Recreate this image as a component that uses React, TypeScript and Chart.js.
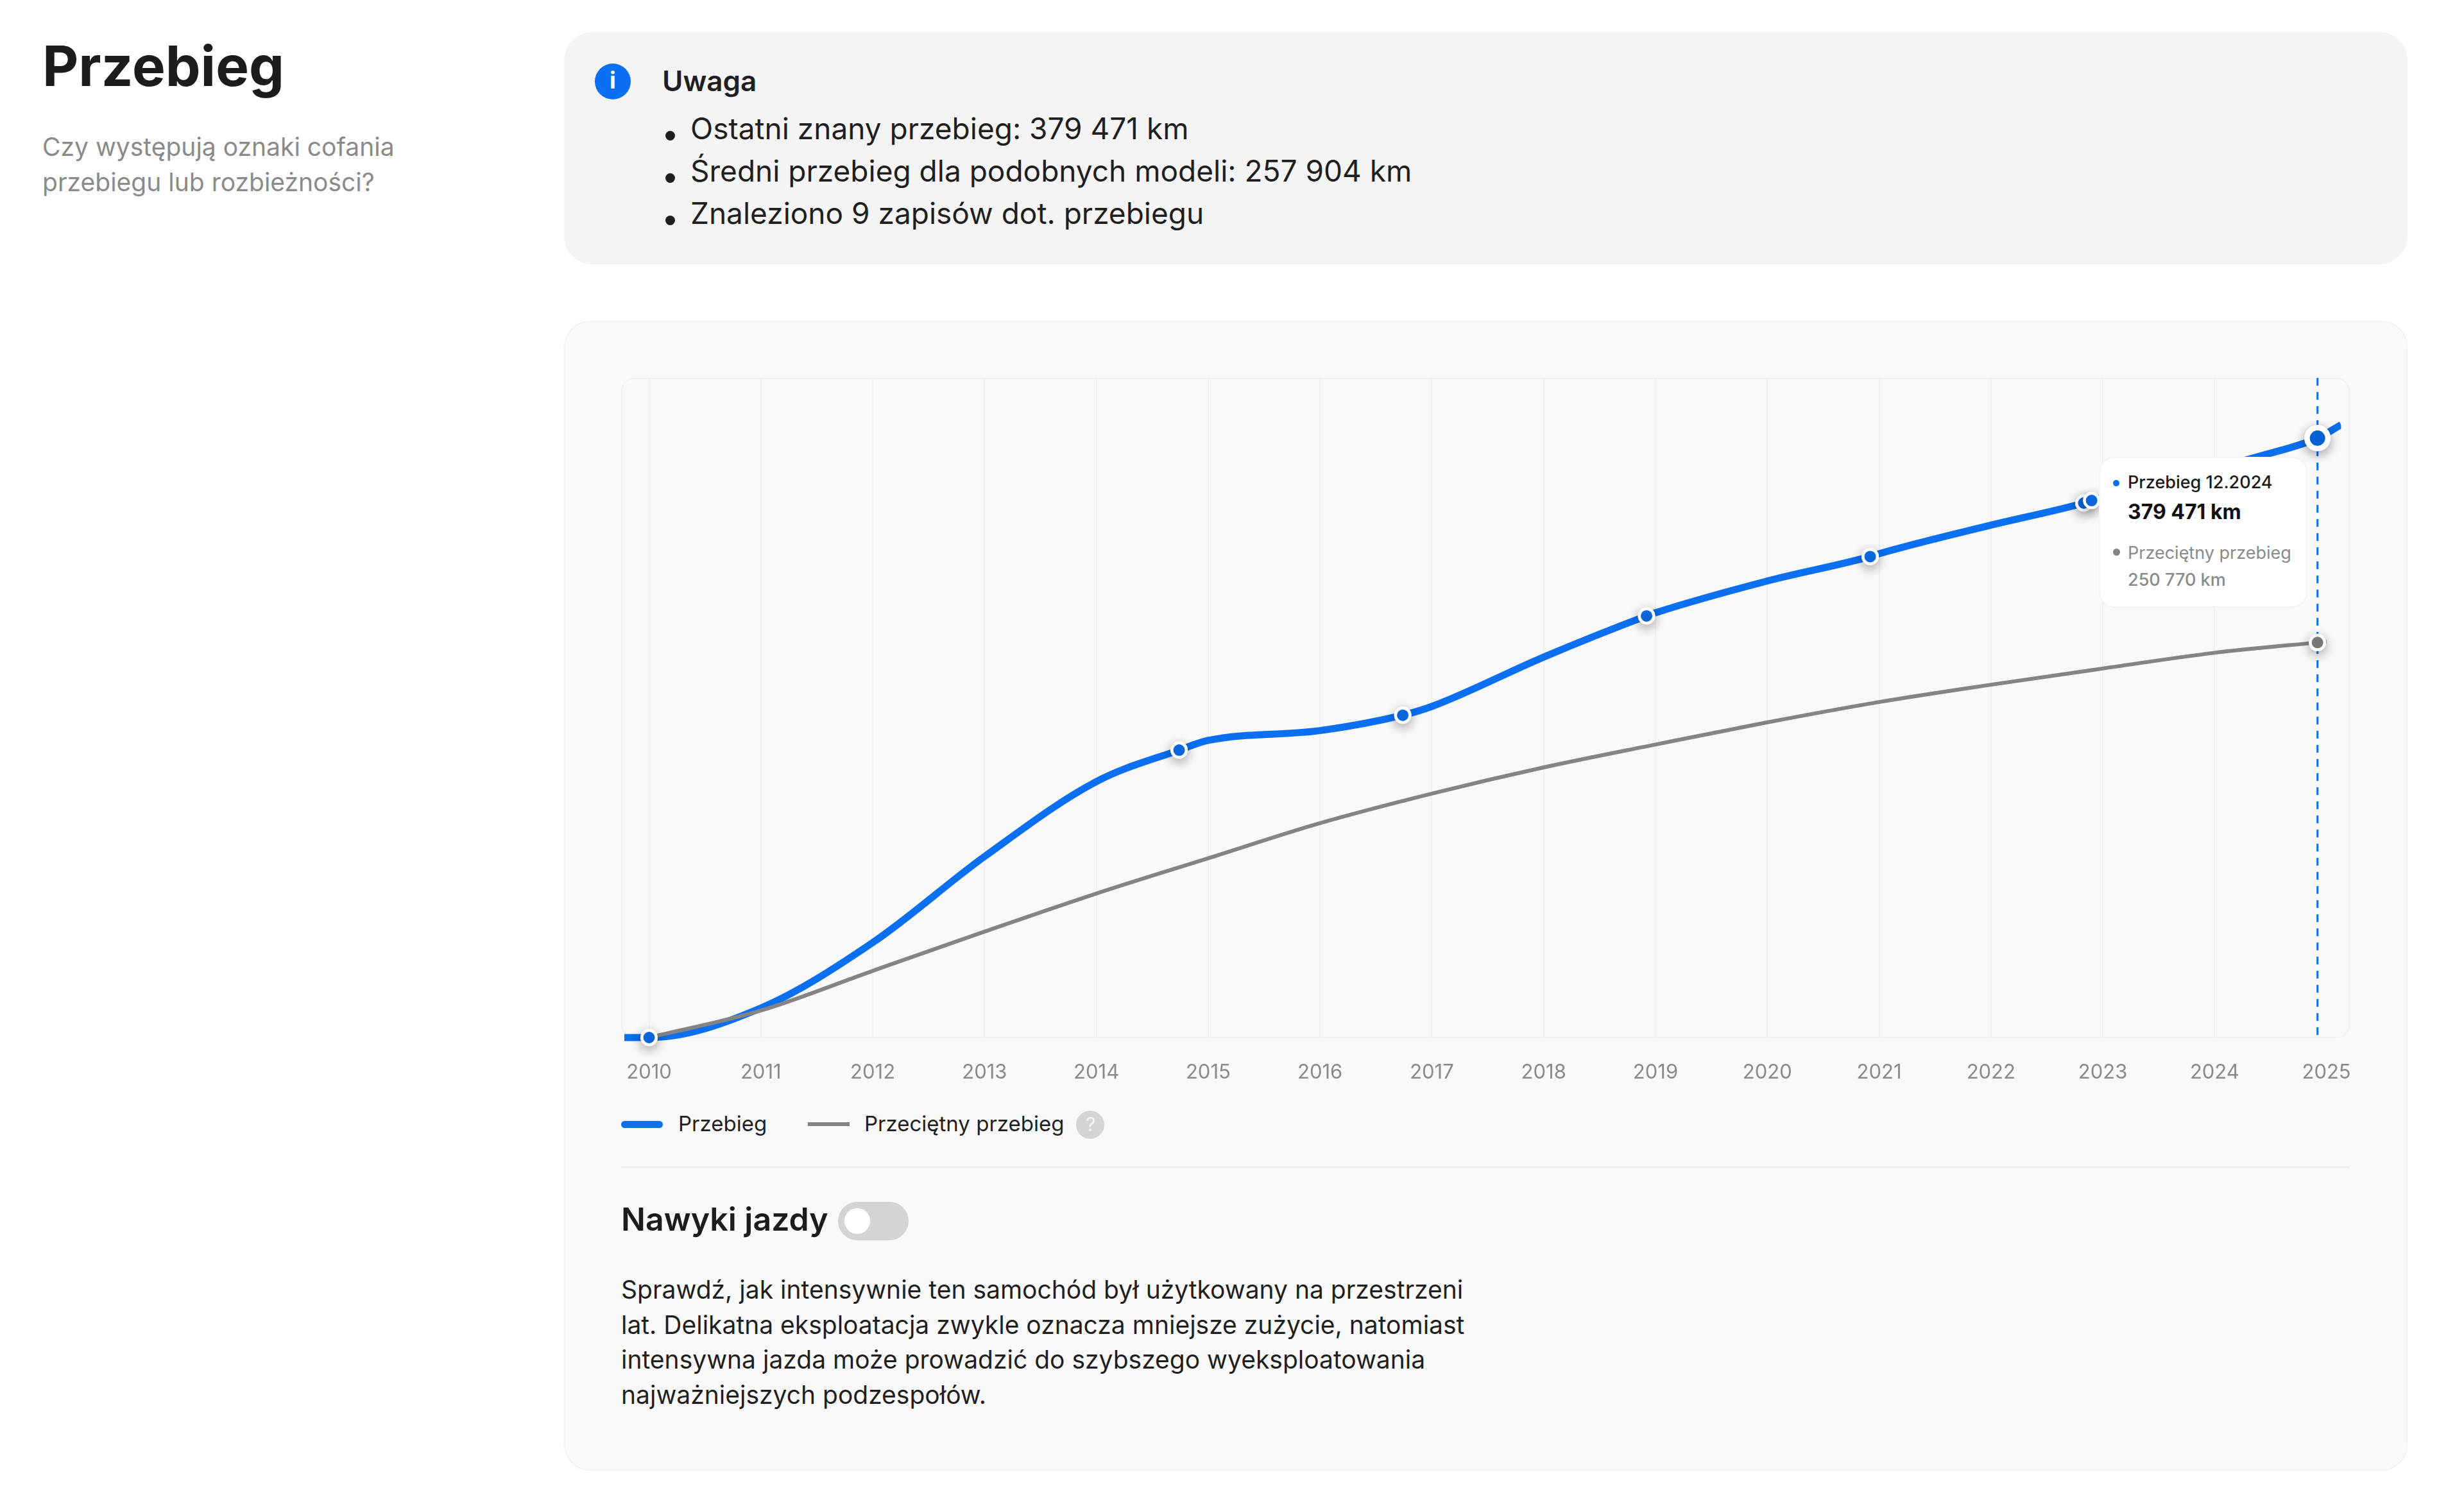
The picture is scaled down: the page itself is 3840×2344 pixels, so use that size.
import { useEffect, useRef } from "react"
import { Chart, registerables } from "chart.js"

Chart.register(...registerables)

const BLUE = "#0a6ff0"
const GREY = "#848484"

const yearTicks = [2010, 2011, 2012, 2013, 2014, 2015, 2016, 2017, 2018, 2019, 2020, 2021, 2022, 2023, 2024, 2025]

// readings along the blue line (year, km)
const mileageYears = [2009.778, 2010, 2011, 2012, 2013, 2014, 2014.74, 2015, 2016, 2016.74, 2017, 2018, 2018.92, 2019, 2020, 2020.92, 2021, 2022, 2022.83, 2022.9, 2024.4, 2024.92, 2025.131]
const mileageKm = [2000, 2000, 20600, 61800, 116000, 163200, 183000, 189100, 195300, 205000, 210500, 241600, 267500, 269500, 289500, 304900, 306700, 324700, 338600, 340200, 368100, 379471, 387900]
const recordYears = [2010, 2014.74, 2016.74, 2018.92, 2020.92, 2022.83, 2022.9]

const averageYears = [2010, 2011, 2012, 2013, 2014, 2015, 2016, 2017, 2018, 2019, 2020, 2021, 2022, 2023, 2024, 2024.92, 2025]
const averageKm = [2000, 19000, 44000, 68700, 92700, 114900, 137000, 155600, 172100, 186500, 200500, 213300, 224200, 234400, 244300, 250770, 251300]

const selectedYear = 2024.92

const noticeLines = [
  "Ostatni znany przebieg: 379 471 km",
  "Średni przebieg dla podobnych modeli: 257 904 km",
  "Znaleziono 9 zapisów dot. przebiegu",
]

const habitsLines = [
  "Sprawdź, jak intensywnie ten samochód był użytkowany na przestrzeni",
  "lat. Delikatna eksploatacja zwykle oznacza mniejsze zużycie, natomiast",
  "intensywna jazda może prowadzić do szybszego wyeksploatowania",
  "najważniejszych podzespołów.",
]

const markerPlugin = {
  id: "markers",
  beforeDatasetsDraw(chart: any) {
    const { ctx, chartArea, scales } = chart
    const x = scales.x.getPixelForValue(selectedYear)
    ctx.save()
    ctx.strokeStyle = BLUE
    ctx.lineWidth = 3
    ctx.setLineDash([12, 10])
    ctx.beginPath()
    ctx.moveTo(x, chartArea.top)
    ctx.lineTo(x, chartArea.bottom)
    ctx.stroke()
    ctx.restore()
  },
  afterDatasetsDraw(chart: any) {
    const { ctx, chartArea } = chart
    ctx.save()
    ctx.shadowColor = "rgba(0,0,0,0.32)"
    ctx.shadowBlur = 18
    ctx.shadowOffsetY = 5
    chart.getSortedVisibleDatasetMetas().forEach((meta: any) => {
      meta.data.forEach((pt: any) => {
        if (pt.options.radius > 0) pt.draw(ctx, chartArea)
      })
    })
    ctx.restore()
  },
}

function MileageChart() {
  const canvasRef = useRef<HTMLCanvasElement>(null)

  useEffect(() => {
    if (!canvasRef.current) return
    const chart = new Chart(canvasRef.current, {
      type: "line",
      data: {
        datasets: [
          {
            label: "Przeciętny przebieg",
            data: averageYears.map((x, i) => ({ x, y: averageKm[i] })),
            borderColor: GREY,
            borderWidth: 6,
            cubicInterpolationMode: "monotone",
            pointRadius: averageYears.map((y) => (y === selectedYear ? 11.25 : 0)),
            pointBackgroundColor: GREY,
            pointBorderColor: "#ffffff",
            pointBorderWidth: 4.5,
            clip: { left: 0, right: 0, top: 0, bottom: 20 },
          },
          {
            label: "Przebieg",
            data: mileageYears.map((x, i) => ({ x, y: mileageKm[i] })),
            borderColor: BLUE,
            borderWidth: 11,
            cubicInterpolationMode: "monotone",
            pointRadius: mileageYears.map((y) => (y === selectedYear ? 16.25 : recordYears.includes(y) ? 11.25 : 0)),
            pointBackgroundColor: BLUE,
            pointBorderColor: "#ffffff",
            pointBorderWidth: mileageYears.map((y) => (y === selectedYear ? 8.5 : 4.5)),
            clip: { left: 0, right: 0, top: 0, bottom: 20 },
          },
        ] as any,
      },
      options: {
        responsive: false,
        animation: false,
        events: [],
        layout: { padding: { left: 28, right: 39, top: 19, bottom: 0 } },
        plugins: { legend: { display: false }, tooltip: { enabled: false } },
        scales: {
          x: {
            type: "linear",
            min: 2009.778,
            max: 2025.131,
            afterFit: (scale: any) => {
              scale.height = 83
            },
            border: { display: false },
            grid: {
              color: (c: any) => (c.tick && c.tick.value < 2025 ? "#edf1f6" : "transparent"),
              lineWidth: 2,
              drawTicks: false,
            },
            ticks: {
              stepSize: 1,
              includeBounds: false,
              autoSkip: false,
              maxRotation: 0,
              padding: 36,
              color: "#8a8a8a",
              font: { family: "Inter", size: 31 },
              callback: (v: any) => (yearTicks.includes(v) ? String(v) : ""),
            },
          },
          y: { display: false, min: 2000, max: 417400 },
        },
      } as any,
      plugins: [markerPlugin],
    })
    return () => chart.destroy()
  }, [])

  return (
    <canvas
      ref={canvasRef}
      width={2760}
      height={1130}
      style={{ position: "absolute", left: 940, top: 570, width: 2760, height: 1130 }}
    />
  )
}

function T({ x, y, size, weight = 400, color = "#1f1f1f", children }: any) {
  // y is the text baseline
  return (
    <div
      style={{
        position: "absolute",
        left: x,
        top: y - 0.364 * size,
        lineHeight: 0,
        fontSize: size,
        fontWeight: weight,
        color,
        whiteSpace: "nowrap",
      }}
    >
      {children}
    </div>
  )
}

function Box({ x, y, w, h, style }: any) {
  return <div style={{ position: "absolute", left: x, top: y, width: w, height: h, boxSizing: "border-box", ...style }} />
}

export default function App() {
  useEffect(() => {
    document.body.style.margin = "0"
    document.body.style.background = "#ffffff"
  }, [])

  return (
    <div style={{ position: "absolute", left: 0, top: 0, width: 3840, height: 2344, overflow: "hidden", fontFamily: "Inter" }}>
      <T x={66} y={135} size={87} weight={700} color="#1c1c1c">Przebieg</T>
      <T x={66} y={243} size={39} color="#8a8a8a">Czy występują oznaki cofania</T>
      <T x={66} y={298} size={39} color="#8a8a8a">przebiegu lub rozbieżności?</T>

      <Box x={879} y={50} w={2873} h={362} style={{ background: "#f4f4f4", borderRadius: 44 }} />
      <Box x={927} y={99} w={56} h={56} style={{ background: BLUE, borderRadius: "50%" }} />
      <T x={950} y={138} size={36} weight={700} color="#ffffff">i</T>
      <T x={1032} y={142} size={44} weight={600}>Uwaga</T>
      {noticeLines.map((line, i) => (
        <div key={line}>
          <Box x={1037} y={204 + i * 66} w={15} h={15} style={{ background: "#1f1f1f", borderRadius: "50%" }} />
          <T x={1076} y={217 + i * 66} size={46}>{line}</T>
        </div>
      ))}

      <Box x={879} y={500} w={2873} h={1792} style={{ background: "#f9f9f9", border: "2px solid #f2f2f2", borderRadius: 40 }} />
      <Box x={968} y={589} w={2694} h={1029} style={{ border: "2px solid #f2f2f2", borderRadius: 20 }} />

      <MileageChart />

      <Box x={3271} y={712} w={325} h={235} style={{ background: "#ffffff", border: "2px solid #f4f4f4", borderRadius: 24 }} />
      <Box x={3293} y={748} w={10} h={10} style={{ background: BLUE, borderRadius: "50%" }} />
      <Box x={3293} y={855} w={11} h={11} style={{ background: GREY, borderRadius: "50%" }} />
      <T x={3316} y={762} size={27} weight={500} color="#1a1a1a">Przebieg 12.2024</T>
      <T x={3316} y={810} size={32} weight={700} color="#111111">379 471 km</T>
      <T x={3316} y={872} size={27} color="#8a8a8a">Przeciętny przebieg</T>
      <T x={3316} y={914} size={27} weight={500} color="#8a8a8a">250 770 km</T>

      <Box x={968} y={1747} w={65} h={11} style={{ background: BLUE, borderRadius: 6 }} />
      <T x={1057} y={1763} size={33}>Przebieg</T>
      <Box x={1259} y={1749} w={65} h={6} style={{ background: GREY }} />
      <T x={1347} y={1763} size={33}>Przeciętny przebieg</T>
      <Box x={1677} y={1731} w={44} h={44} style={{ background: "#d4d4d4", borderRadius: "50%" }} />
      <T x={1692} y={1763} size={30} color="#f4f4f4">?</T>

      <Box x={968} y={1818} w={2694} h={2} style={{ background: "#ececec" }} />

      <T x={968} y={1918} size={50} weight={600} color="#1c1c1c">Nawyki jazdy</T>
      <Box x={1306} y={1873} w={110} h={60} style={{ background: "#d4d4d4", borderRadius: 30 }} />
      <Box x={1316} y={1883} w={40} h={40} style={{ background: "#ffffff", borderRadius: "50%" }} />

      {habitsLines.map((line, i) => (
        <T key={line} x={968} y={2024 + i * 54.7} size={39}>{line}</T>
      ))}
    </div>
  )
}
